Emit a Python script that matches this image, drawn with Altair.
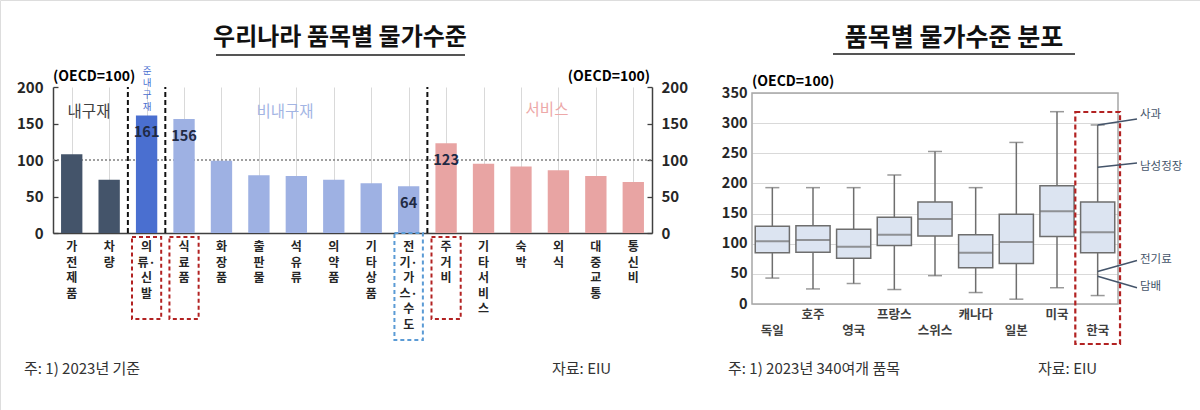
import altair as alt
import pandas as pd

FONT = "Noto Sans CJK KR"
W, H = 1200, 410

# ---------------- left chart data ----------------
items = ["가전제품", "차량", "의류·신발", "식료품", "화장품", "출판물", "석유류", "의약품",
         "기타상품", "전기·가스·수도", "주거비", "기타서비스", "숙박", "외식", "대중교통", "통신비"]
values = [108, 73, 161, 156, 99, 79, 78, 73, 68, 64, 123, 95, 91, 86, 78, 70]
groups = ["내구재", "내구재", "준내구재", "비내구재", "비내구재", "비내구재", "비내구재", "비내구재",
          "비내구재", "비내구재", "서비스", "서비스", "서비스", "서비스", "서비스", "서비스"]
group_names = ["내구재", "준내구재", "비내구재", "서비스"]
group_colors = ["#44546a", "#4a6fd0", "#9eb1e3", "#e8a4a3"]
labeled_items = ["의류·신발", "식료품", "전기·가스·수도", "주거비"]
separator_items = ["의류·신발", "식료품", "주거비"]
red_box_items = ["의류·신발", "식료품", "주거비"]
blue_box_items = ["전기·가스·수도"]
yticks_left = [0, 50, 100, 150, 200]

# ---------------- right chart data ----------------
countries = ["독일", "호주", "영국", "프랑스", "스위스", "캐나다", "일본", "미국", "한국"]
whisk_lo = [43, 25, 34, 24, 47, 19, 8, 27, 14]
q1 = [85, 86, 76, 97, 113, 60, 67, 112, 85]
median = [104, 106, 95, 115, 141, 85, 103, 154, 119]
q3 = [129, 130, 124, 144, 169, 115, 149, 196, 169]
whisk_hi = [193, 193, 193, 214, 253, 193, 268, 319, 297]
yticks_right = [0, 50, 100, 150, 200, 250, 300, 350]
ann_labels = ["사과", "남성정장", "전기료", "담배"]
ann_from = [297, 227, 54, 46]
ann_to = [307, 234, 72, 27]
ann_text = [314, 228, 73, 29]


def vertical(name):
    out = []
    for ch in name:
        if ch == "·" and out:
            out[-1] += ch
        else:
            out.append(ch)
    return "\n".join(out)


dfL = pd.DataFrame({"item": items, "value": values, "group": groups,
                    "vlabel": [vertical(s) for s in items]})
dfLab = dfL[dfL["item"].isin(labeled_items)]
dfSep = pd.DataFrame({"item": separator_items, "lo": 0, "hi": 200})
dfRed = pd.DataFrame({"item": red_box_items})
dfBlue = pd.DataFrame({"item": blue_box_items})
dfR = pd.DataFrame({"country": countries, "lo": whisk_lo, "q1": q1, "med": median,
                    "q3": q3, "hi": whisk_hi})
dfAnn = pd.DataFrame({"country": countries[-1], "label": ann_labels, "y0": ann_from,
                      "y1": ann_to, "ty": ann_text})

# scales (pixel ranges inside one 1200x410 canvas)
xL = alt.Scale(domain=items, range=[53, 652], paddingInner=0, paddingOuter=0)
yL = alt.Scale(domain=[0, 200], range=[233, 87], nice=False, zero=True)
xR = alt.Scale(domain=countries, range=[752, 1118], paddingInner=0, paddingOuter=0)
yR = alt.Scale(domain=[0, 350], range=[304, 93], nice=False, zero=True)

one = pd.DataFrame({"a": [0]})


def txt(text, x, y, size=14, color="#000000", weight="normal", align="center",
        baseline="middle", line_break=None, line_height=None):
    kw = dict(fontSize=size, color=color, fontWeight=weight, align=align,
              baseline=baseline, font=FONT)
    if line_break:
        kw["lineBreak"] = line_break
    if line_height:
        kw["lineHeight"] = line_height
    return alt.Chart(pd.DataFrame({"t": [text]})).mark_text(**kw).encode(
        text="t:N", x=alt.value(x), y=alt.value(y))


def hrule(x1, x2, y, color, width):
    return alt.Chart(one).mark_rule(color=color, strokeWidth=width).encode(
        x=alt.value(x1), x2=alt.value(x2), y=alt.value(y))


layers = []

# ---- left chart: grid (top-oriented axis, grid only) ----
layers.append(alt.Chart(dfL).mark_point(opacity=0).encode(
    x=alt.X("item:N", scale=xL, axis=alt.Axis(orient="top", bandPosition=0, grid=True,
            gridColor="#d9d9d9", gridWidth=1, labels=False, ticks=False, domain=False,
            title=None)),
    y=alt.Y("value:Q", scale=yL, axis=None)))

# dotted 100 line
layers.append(alt.Chart(one).mark_rule(color="#808080", strokeDash=[2, 2], strokeWidth=1.3).encode(
    x=alt.value(53), x2=alt.value(652), y=alt.YDatum(100, scale=yL, axis=None)))

# bars with bottom domain + left axis
layers.append(alt.Chart(dfL).mark_bar(width=alt.RelativeBandSize(0.57)).encode(
    x=alt.X("item:N", scale=xL, axis=alt.Axis(orient="bottom", offset=-177, grid=False,
            labels=False, ticks=False, domain=True, domainColor="#404040", domainWidth=1.5,
            title=None)),
    y=alt.Y("value:Q", scale=yL, axis=alt.Axis(orient="left", offset=-53, values=yticks_left,
            grid=False, ticks=False, domain=True, domainColor="#404040", domainWidth=1.5,
            labelFontSize=15, labelFontWeight="bold", labelColor="#262626", labelPadding=10,
            labelFont=FONT, title=None)),
    color=alt.Color("group:N", scale=alt.Scale(domain=group_names, range=group_colors),
                    legend=None)))

# right axis of left chart
layers.append(alt.Chart(dfL).mark_point(opacity=0).encode(
    x=alt.X("item:N", scale=xL, axis=None),
    y=alt.Y("value:Q", scale=yL, axis=alt.Axis(orient="right", offset=-548, values=yticks_left,
            grid=False, ticks=False, domain=True, domainColor="#404040", domainWidth=1.5,
            labelFontSize=15, labelFontWeight="bold", labelColor="#262626", labelPadding=9,
            labelFont=FONT, title=None))))

# inward ticks
layers.append(alt.Chart(dfL).mark_point(opacity=0).encode(
    x=alt.X("item:N", scale=xL, axis=None),
    y=alt.Y("value:Q", scale=yL, axis=alt.Axis(orient="right", offset=53 - W, values=yticks_left,
            grid=False, ticks=True, tickSize=5, tickColor="#404040", tickWidth=1.3,
            labels=False, domain=False, title=None))))
layers.append(alt.Chart(dfL).mark_point(opacity=0).encode(
    x=alt.X("item:N", scale=xL, axis=None),
    y=alt.Y("value:Q", scale=yL, axis=alt.Axis(orient="left", offset=-652, values=yticks_left,
            grid=False, ticks=True, tickSize=5, tickColor="#404040", tickWidth=1.3,
            labels=False, domain=False, title=None))))

# dashed separators
layers.append(alt.Chart(dfSep).mark_rule(color="#111111", strokeDash=[5, 3], strokeWidth=2).encode(
    x=alt.X("item:N", scale=xL, axis=None, bandPosition=0),
    y=alt.Y("lo:Q", scale=yL, axis=None), y2="hi:Q"))

# value labels
layers.append(alt.Chart(dfLab).mark_text(dy=18, fontSize=14.5, fontWeight="bold",
                                         color="#1f2a44", font=FONT).encode(
    x=alt.X("item:N", scale=xL, axis=None),
    y=alt.Y("value:Q", scale=yL, axis=None), text="value:Q"))

# vertical item labels
layers.append(alt.Chart(dfL).mark_text(lineBreak="\n", baseline="top", fontSize=12,
                                       lineHeight=15.5, fontWeight="bold", color="#262626",
                                       font=FONT).encode(
    x=alt.X("item:N", scale=xL, axis=None), y=alt.value(242), text="vlabel:N"))

# highlight boxes around labels
layers.append(alt.Chart(dfRed).mark_bar(width=alt.RelativeBandSize(0.78), fillOpacity=0,
                                        stroke="#b22222", strokeDash=[4, 3], strokeWidth=2).encode(
    x=alt.X("item:N", scale=xL, axis=None), y=alt.value(237), y2=alt.value(319)))
layers.append(alt.Chart(dfBlue).mark_bar(width=alt.RelativeBandSize(0.76), fillOpacity=0,
                                         stroke="#5b9bd5", strokeDash=[4, 3], strokeWidth=2).encode(
    x=alt.X("item:N", scale=xL, axis=None), y=alt.value(233), y2=alt.value(340)))

# group labels & units
layers.append(txt("내구재", 89, 112, size=15.5, color="#404040"))
layers.append(txt("비내구재", 285, 112, size=15.5, color="#a3b5e4"))
layers.append(txt("서비스", 547, 110, size=15.5, color="#eda8a8"))
layers.append(txt("준\n내\n구\n재", 147, 66, size=9.5, color="#4a6fd0", baseline="top",
                  line_break="\n", line_height=12))
layers.append(txt("(OECD=100)", 53, 77, size=14, weight="bold", align="left"))
layers.append(txt("(OECD=100)", 650, 77, size=14, weight="bold", align="right"))

# titles
layers.append(txt("우리나라 품목별 물가수준", 340, 38, size=24, weight="bold", color="#111111"))
layers.append(hrule(216, 465, 55, "#555555", 2))
layers.append(txt("품목별  물가수준  분포", 954, 38, size=25, weight="bold", color="#111111"))
layers.append(hrule(833, 1075, 54, "#555555", 2))

# ---- right chart ----
layers.append(alt.Chart(dfR).mark_rule(color="#6e6e6e", strokeWidth=1.5).encode(
    x=alt.X("country:N", scale=xR, axis=None),
    y=alt.Y("lo:Q", scale=yR, axis=alt.Axis(orient="left", offset=-752, values=yticks_right,
            grid=True, gridColor="#d9d9d9", gridWidth=1.2, ticks=False, domain=False,
            labelFontSize=14.5, labelFontWeight="bold", labelColor="#262626", labelPadding=5,
            labelFont=FONT, title=None)),
    y2="hi:Q"))
layers.append(alt.Chart(one).mark_rect(fillOpacity=0, stroke="#a6a6a6", strokeWidth=1.5).encode(
    x=alt.value(752), x2=alt.value(1118), y=alt.YDatum(0, scale=yR, axis=None),
    y2=alt.Y2Datum(350)))
layers.append(alt.Chart(dfR).mark_bar(width=alt.RelativeBandSize(0.84), fill="#dce4f1",
                                      stroke="#6e6e6e", strokeWidth=1.5).encode(
    x=alt.X("country:N", scale=xR, axis=None),
    y=alt.Y("q1:Q", scale=yR, axis=None), y2="q3:Q"))
layers.append(alt.Chart(dfR).mark_tick(size=34, thickness=2, color="#6e6e6e").encode(
    x=alt.X("country:N", scale=xR, axis=None), y=alt.Y("med:Q", scale=yR, axis=None)))
layers.append(alt.Chart(dfR).mark_tick(size=14, thickness=1.5, color="#6e6e6e").encode(
    x=alt.X("country:N", scale=xR, axis=None), y=alt.Y("lo:Q", scale=yR, axis=None)))
layers.append(alt.Chart(dfR).mark_tick(size=14, thickness=1.5, color="#6e6e6e").encode(
    x=alt.X("country:N", scale=xR, axis=None), y=alt.Y("hi:Q", scale=yR, axis=None)))

# country labels (staggered)
layers.append(alt.Chart(dfR.iloc[0::2]).mark_text(fontSize=12.5, fontWeight="bold",
                                                  color="#404040", font=FONT).encode(
    x=alt.X("country:N", scale=xR, axis=None), y=alt.value(331), text="country:N"))
layers.append(alt.Chart(dfR.iloc[1::2]).mark_text(fontSize=12.5, fontWeight="bold",
                                                  color="#404040", font=FONT).encode(
    x=alt.X("country:N", scale=xR, axis=None), y=alt.value(315), text="country:N"))

# Korea highlight box
layers.append(alt.Chart(dfR.iloc[[-1]]).mark_bar(width=alt.RelativeBandSize(1.1), fillOpacity=0,
                                                 stroke="#b22222", strokeDash=[5, 3],
                                                 strokeWidth=2.2).encode(
    x=alt.X("country:N", scale=xR, axis=None), y=alt.value(112), y2=alt.value(344)))

# annotations
layers.append(alt.Chart(dfAnn).mark_rule(color="#44546a", strokeWidth=1.5).encode(
    x=alt.X("country:N", scale=xR, axis=None), x2=alt.value(1137),
    y=alt.Y("y0:Q", scale=yR, axis=None), y2="y1:Q"))
layers.append(alt.Chart(dfAnn).mark_text(align="left", fontSize=11.5, color="#44546a",
                                         font=FONT).encode(
    x=alt.value(1140), y=alt.Y("ty:Q", scale=yR, axis=None), text="label:N"))
layers.append(txt("(OECD=100)", 752, 82, size=14, weight="bold", align="left"))

# footnotes
layers.append(txt("주: 1) 2023년 기준", 24, 369, size=15, color="#333333", align="left"))
layers.append(txt("자료: EIU", 552, 369, size=15, color="#333333", align="left"))
layers.append(txt("주: 1) 2023년 340여개 품목", 728, 369, size=15, color="#333333", align="left"))
layers.append(txt("자료: EIU", 1038, 369, size=15, color="#333333", align="left"))

chart = alt.layer(*layers).resolve_scale(
    x="independent", y="independent", color="independent"
).properties(
    width=W, height=H, padding=0, autosize=alt.AutoSizeParams(type="none"),
    background="white"
).configure_view(stroke=None).configure(font=FONT)

chart.save("out.html", embed_options={"renderer": "svg", "actions": False})
